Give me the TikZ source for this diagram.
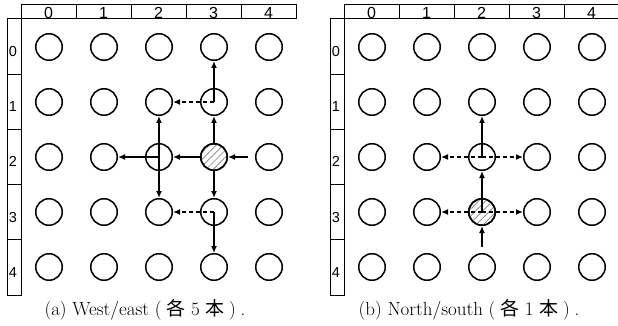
\documentclass[tikz,border=0pt]{standalone}
\usepackage{fontspec}
\newfontfamily\labelfont{Liberation Sans}
\newfontfamily\cjk{Noto Sans CJK JP}
\usetikzlibrary{arrows.meta,patterns.meta}
\tikzset{
  router/.style={circle, draw, line width=1.5pt, minimum size=26.5pt, inner sep=0pt},
  hot/.style={router, pattern={Lines[angle=45, distance=5pt, line width=0.7pt]}, pattern color=gray},
  gridline/.style={line width=1pt},
  colidx/.style={font=\labelfont\fontsize{16}{16}\selectfont, inner sep=0pt},
  rowidx/.style={font=\labelfont\fontsize{14.5}{14.5}\selectfont, inner sep=0pt},
  link/.style={line width=1.6pt, -{Latex[length=7pt,width=6pt]}},
  dlink/.style={link, dash pattern=on 4pt off 3pt},
  captext/.style={font=\fontsize{19}{19}\selectfont, inner sep=0pt}
}
\newcommand{\meshpanel}[2]{%
  % #1 = node prefix, #2 = horizontal offset
  \begin{scope}[xshift=#2pt]
    \draw[gridline] (21,4.5) rectangle (296,19);
    \draw[gridline] (7,19) rectangle (21,295);
    \foreach \k in {1,...,4} {
      \draw[gridline] ({21+55*\k},4.5) -- ({21+55*\k},19);
      \draw[gridline] (7,{19+55.2*\k}) -- (21,{19+55.2*\k});
    }
    \foreach \k in {0,...,4} {
      \node[colidx, anchor=base] (#1-col-\k) at ({48.5+55*\k},18.8) {\k};
      \node[rowidx] (#1-row-\k) at (13,{51.5+55.2*\k}) {\k};
    }
    \foreach \r in {0,...,4} {
      \foreach \c in {0,...,4} {
        \node[router] (#1-\r-\c) at ({49+55*\c},{47+55*\r}) {};
      }
    }
  \end{scope}%
}
\begin{document}
\begin{tikzpicture}[x=1pt, y=-1pt]
  \useasboundingbox (0,0) rectangle (618,326);

  % (a) west/east faulty router
  \meshpanel{a}{0}
  \node[hot] at (a-2-3) {};
  \draw[link, shorten <=7pt] (a-2-4.west) -- (a-2-3.east);
  \draw[link] (a-2-3.west) -- (a-2-2.east);
  \draw[link] (a-2-3.north) -- (a-1-3.south);
  \draw[link] (a-2-3.south) -- (a-3-3.north);
  \draw[link] (a-2-2.center) -- (a-2-1.east);
  \draw[link] (a-2-2.center) -- (a-1-2.south);
  \draw[link] (a-2-2.center) -- (a-3-2.north);
  \draw[link] (a-1-3.center) -- (a-0-3.south);
  \draw[dlink] (a-1-3.center) -- (a-1-2.east);
  \draw[link] (a-3-3.center) -- (a-4-3.north);
  \draw[dlink] (a-3-3.center) -- (a-3-2.east);
  \node[captext] (capa) at (145,310) {(a) West/east (\hspace{0.25em}{\cjk 各} 5 {\cjk 本}\hspace{0.25em})\hspace{0.25em}.};

  % (b) north/south faulty router
  \meshpanel{b}{323}
  \node[hot] at (b-3-2) {};
  \draw[link, shorten <=6pt] (b-4-2.north) -- (b-3-2.south);
  \draw[link] (b-3-2.center) -- (b-2-2.south);
  \draw[dlink] (b-3-2.center) -- (b-3-1.east);
  \draw[dlink] (b-3-2.center) -- (b-3-3.west);
  \draw[link] (b-2-2.center) -- (b-1-2.south);
  \draw[dlink] (b-2-2.center) -- (b-2-1.east);
  \draw[dlink] (b-2-2.center) -- (b-2-3.west);
  \node[captext] (capb) at (469,310) {(b) North/south (\hspace{0.25em}{\cjk 各} 1 {\cjk 本}\hspace{0.25em})\hspace{0.25em}.};
\end{tikzpicture}
\end{document}
